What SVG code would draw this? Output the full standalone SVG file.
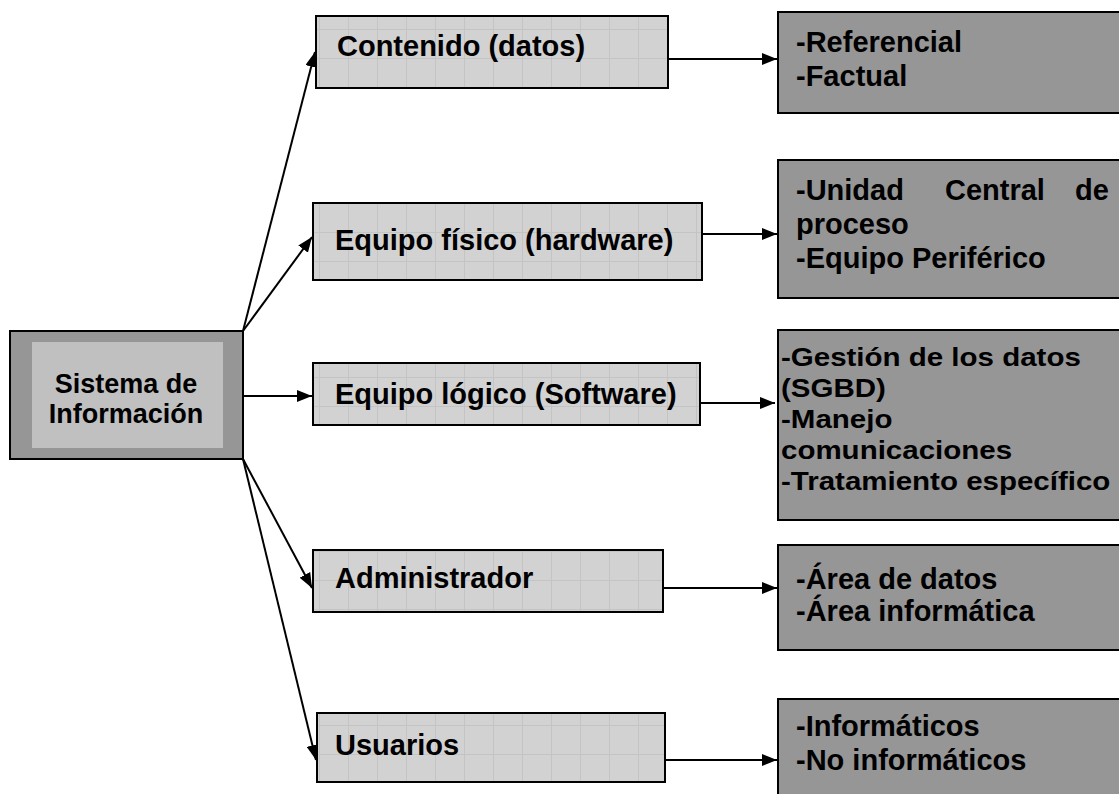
<svg xmlns="http://www.w3.org/2000/svg" width="1119" height="794" viewBox="0 0 1119 794">
<style>
text{font-family:"Liberation Sans",Arial,Helvetica,sans-serif;font-weight:bold;fill:#000}
.mid{fill:url(#grid);stroke:#000;stroke-width:2}
.right{fill:#969696;stroke:#000;stroke-width:2}
.t29{font-size:29px}
.t27{font-size:27px}
.t25{font-size:25px}
.conn line{stroke:#000;stroke-width:2;marker-end:url(#ah)}
</style>
<defs>
<pattern id="grid" patternUnits="userSpaceOnUse" width="29" height="29">
<rect width="29" height="29" fill="#d2d2d2"/>
<path d="M0 0.5H29M0.5 0V29" stroke="#c4c4c4" stroke-width="1" fill="none"/>
</pattern>
<marker id="ah" markerUnits="userSpaceOnUse" markerWidth="15" markerHeight="12" refX="15" refY="6" orient="auto">
<path d="M0 0L15 6L0 12z" fill="#000"/>
</marker>
</defs>
<rect width="1119" height="794" fill="#fff"/>
<g id="connectors" class="conn">
<line x1="243" y1="331" x2="315" y2="52"/>
<line x1="243" y1="331" x2="312" y2="237"/>
<line x1="243" y1="396" x2="312" y2="396"/>
<line x1="243" y1="459" x2="312" y2="588"/>
<line x1="243" y1="459" x2="316" y2="760"/>
<line x1="668" y1="59" x2="777" y2="59"/>
<line x1="702" y1="234" x2="777" y2="234"/>
<line x1="700" y1="403" x2="775" y2="403"/>
<line x1="663" y1="588" x2="777" y2="588"/>
<line x1="665" y1="760" x2="777" y2="760"/>
</g>
<g id="sistema">
<rect x="10" y="331" width="233" height="128" fill="#969696" stroke="#000" stroke-width="2"/>
<rect x="32" y="342" width="191" height="106" fill="#c0c0c0"/>
<text class="t27" x="126" y="393" text-anchor="middle">Sistema de</text>
<text class="t27" x="126" y="423" text-anchor="middle">Información</text>
</g>
<g id="contenido">
<rect class="mid" x="316" y="16" width="352" height="72"/>
<text class="t29" x="337" y="56">Contenido (datos)</text>
</g>
<g id="equipo-fisico">
<rect class="mid" x="313" y="203" width="389" height="77"/>
<text class="t29" x="335" y="250">Equipo físico (hardware)</text>
</g>
<g id="equipo-logico">
<rect class="mid" x="313" y="363" width="387" height="62"/>
<text class="t29" x="335" y="404">Equipo lógico (Software)</text>
</g>
<g id="administrador">
<rect class="mid" x="313" y="550" width="350" height="62"/>
<text class="t29" x="335" y="588">Administrador</text>
</g>
<g id="usuarios">
<rect class="mid" x="317" y="713" width="348" height="69"/>
<text class="t29" x="335" y="755">Usuarios</text>
</g>
<g id="r-contenido">
<rect class="right" x="778" y="12" width="360" height="101"/>
<text class="t29" x="796" y="52">-Referencial</text>
<text class="t29" x="796" y="86">-Factual</text>
</g>
<g id="r-fisico">
<rect class="right" x="778" y="160" width="360" height="138"/>
<text class="t29" x="796" y="200">-Unidad</text>
<text class="t29" x="945" y="200">Central</text>
<text class="t29" x="1075" y="200">de</text>
<text class="t29" x="796" y="234">proceso</text>
<text class="t29" x="796" y="268">-Equipo Periférico</text>
</g>
<g id="r-logico">
<rect class="right" x="778" y="330" width="360" height="190"/>
<g transform="translate(781 0) scale(1.18 1)">
<text class="t25" x="0" y="366">-Gestión de los datos</text>
<text class="t25" x="0" y="397">(SGBD)</text>
<text class="t25" x="0" y="428">-Manejo</text>
<text class="t25" x="0" y="459">comunicaciones</text>
<text class="t25" x="0" y="490">-Tratamiento específico</text>
</g>
</g>
<g id="r-admin">
<rect class="right" x="778" y="545" width="360" height="105"/>
<text class="t29" x="796" y="589">-Área de datos</text>
<text class="t29" x="796" y="621">-Área informática</text>
</g>
<g id="r-usuarios">
<rect class="right" x="778" y="699" width="360" height="110"/>
<text class="t29" x="796" y="736">-Informáticos</text>
<text class="t29" x="796" y="770">-No informáticos</text>
</g>
</svg>
